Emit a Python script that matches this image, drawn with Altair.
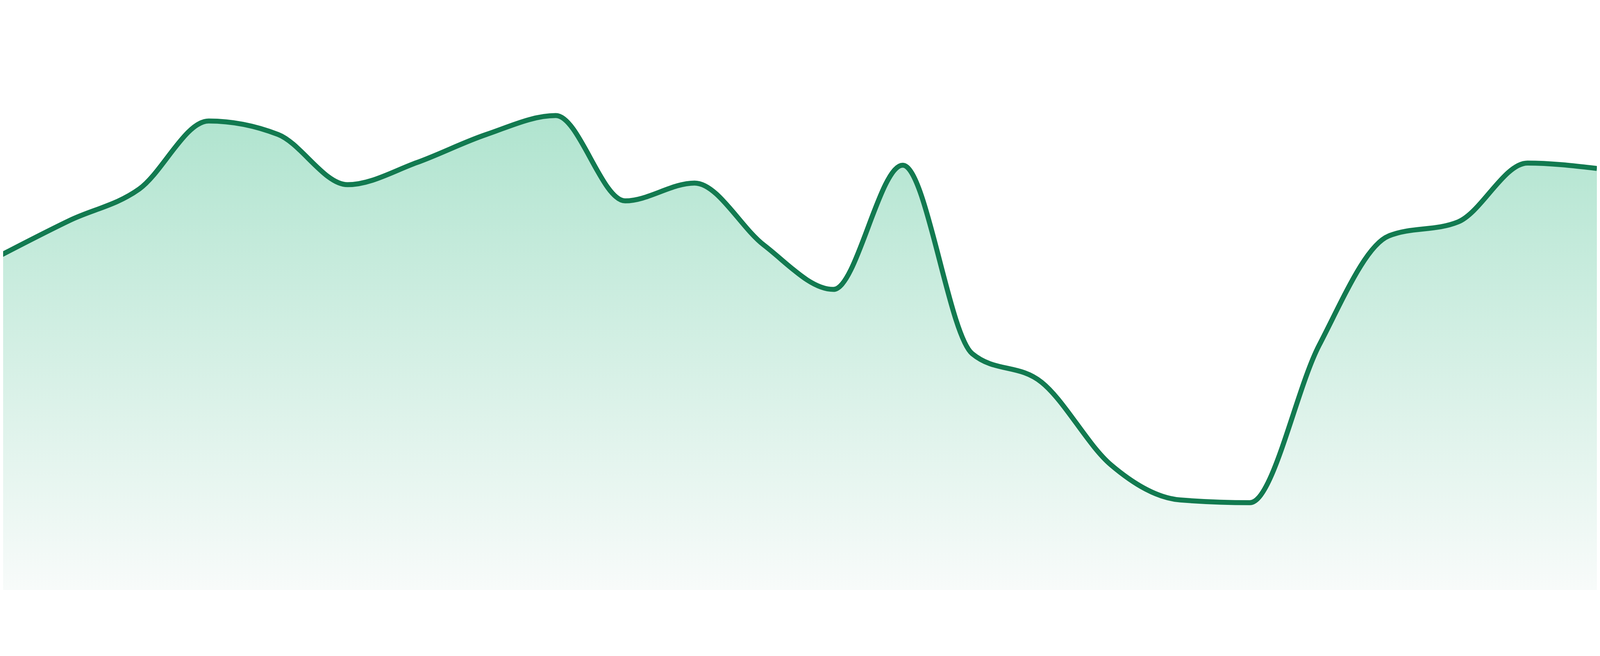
import altair as alt
import pandas as pd

# Values (index along x, value on a 0-100 scale)
idx = list(range(24))
values = [62.0, 68.5, 74.3, 86.9, 84.4, 75.1, 79.2, 84.4, 87.9, 72.1, 75.4, 63.9,
          55.7, 78.7, 43.8, 38.5, 23.2, 16.7, 16.2, 45.4, 65.6, 68.2, 79.1, 78.1]

df = pd.DataFrame({"i": idx, "v": values})

xs = alt.X("i:Q", axis=None, scale=alt.Scale(domain=[0.0383, 23.0], nice=False, zero=False))
ys = alt.Y("v:Q", axis=None, scale=alt.Scale(domain=[0, 100], nice=False))

area = alt.Chart(df).mark_area(
    interpolate="monotone",
    clip=True,
    color=alt.Gradient(
        gradient="linear",
        stops=[alt.GradientStop(color="#b0e4cf", offset=0),
               alt.GradientStop(color="#f8fbfa", offset=1)],
        x1=0, x2=0, y1=0, y2=1,
    ),
).encode(x=xs, y=ys)

line = alt.Chart(df).mark_line(
    interpolate="monotone", clip=True, color="#127a50", strokeWidth=15
).encode(x=xs, y=ys)

chart = (area + line).properties(
    width=4792, height=1624, padding=0,
    autosize=alt.AutoSizeParams(type="none"),
).configure_view(stroke=None)

chart.save("out.html", embed_options={"renderer": "svg", "actions": False})
